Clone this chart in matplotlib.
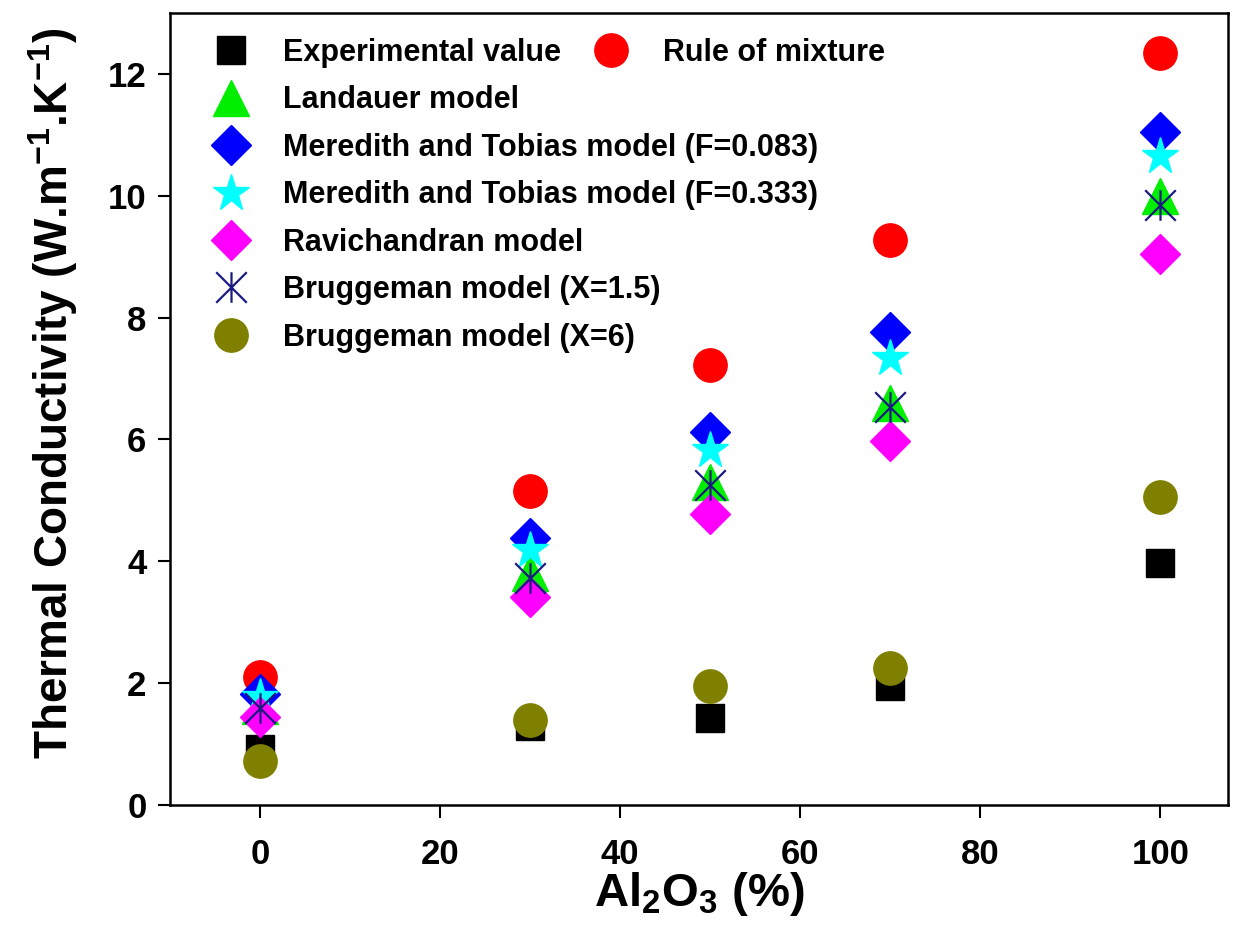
import matplotlib
matplotlib.use("Agg")
import matplotlib.pyplot as plt
from matplotlib import font_manager
from matplotlib.path import Path

# Al2O3 content (%)
al2o3 = [0, 30, 50, 70, 100]

# thermal conductivity, W.m-1.K-1
experimental = [0.92, 1.30, 1.43, 1.96, 3.97]
rule_of_mixture = [2.10, 5.16, 7.22, 9.27, 12.35]
landauer = [1.62, 3.80, 5.30, 6.60, 10.00]
meredith_083 = [1.82, 4.38, 6.13, 7.77, 11.05]
meredith_333 = [1.78, 4.18, 5.82, 7.33, 10.65]
ravichandran = [1.45, 3.41, 4.78, 5.98, 9.05]
bruggeman_15 = [1.60, 3.73, 5.25, 6.53, 9.85]
bruggeman_6 = [0.72, 1.39, 1.96, 2.25, 5.05]

labels = ["Experimental value", "Rule of mixture", "Landauer model",
          "Meredith and Tobias model (F=0.083)", "Meredith and Tobias model (F=0.333)",
          "Ravichandran model", "Bruggeman model (X=1.5)", "Bruggeman model (X=6)"]

installed = {f.name for f in font_manager.fontManager.ttflist}
narrow = "Liberation Sans Narrow" in installed
label_family = ["Liberation Sans Narrow", "Liberation Sans", "DejaVu Sans"] if narrow else ["Liberation Sans", "DejaVu Sans"]

plt.rcParams.update({
    "font.family": ["Liberation Sans", "DejaVu Sans"],
    "font.weight": "bold",
    "mathtext.fontset": "custom",
    "mathtext.rm": "Liberation Sans:bold",
    "mathtext.bf": "Liberation Sans:bold",
    "axes.linewidth": 1.8,
})

# asterisk: vertical line plus two diagonals
asterisk = Path([(0, -0.5), (0, 0.5), (-0.5, -0.5), (0.5, 0.5), (-0.5, 0.5), (0.5, -0.5)],
                [Path.MOVETO, Path.LINETO, Path.MOVETO, Path.LINETO, Path.MOVETO, Path.LINETO])

fig = plt.figure(figsize=(12.43, 9.51), dpi=100)
ax = fig.add_axes([170 / 1243, 1 - 805 / 951, (1228 - 170) / 1243, (805 - 13) / 951])

series = [
    (experimental, dict(marker="s", color="black", ms=20)),
    (rule_of_mixture, dict(marker="o", color="#ff0000", ms=24)),
    (landauer, dict(marker="^", color="#00ee00", ms=26)),
    (meredith_083, dict(marker="D", color="#0000ff", ms=20)),
    (meredith_333, dict(marker="*", color="#00ffff", ms=28)),
    (ravichandran, dict(marker="D", color="#ff00ff", ms=20)),
    (bruggeman_15, dict(marker=asterisk, color="#1a1a80", ms=22, mew=1.6)),
    (bruggeman_6, dict(marker="o", color="#808000", ms=24)),
]

handles = []
for (vals, style), lab in zip(series, labels):
    h, = ax.plot(al2o3, vals, linestyle="none", label=lab, **style)
    handles.append(h)

ax.set_xlim(-10, 107.5)
ax.set_ylim(0, 13)
ax.set_xticks([0, 20, 40, 60, 80, 100])
ax.set_yticks([0, 2, 4, 6, 8, 10, 12])
ax.tick_params(direction="out", length=9, width=1.5, labelsize=25)
ax.tick_params(axis="y", pad=8)
ax.tick_params(axis="x", pad=15)
for t in ax.get_xticklabels() + ax.get_yticklabels():
    t.set_fontweight("bold")

ax.set_ylabel(r"Thermal Conductivity (W.m$^{\mathbf{-1}}$.K$^{\mathbf{-1}}$)",
              family=label_family, fontsize=40 if narrow else 33, fontweight="bold")
ax.yaxis.set_label_coords(-0.085, 0.52)
ax.set_xlabel(r"Al$_{\mathbf{2}}$O$_{\mathbf{3}}$ (%)", fontsize=34, fontweight="bold")
ax.xaxis.set_label_coords(0.5, -0.082)

leg_fs = 26 if narrow else 22
leg_props = dict(family=label_family, weight="bold", size=leg_fs)
leg1 = ax.legend(handles=handles[:2], loc="center left", bbox_to_anchor=(0.04, (805 - 53) / 792),
                 ncol=2, frameon=False, numpoints=1, prop=leg_props, borderpad=0,
                 handlelength=1.2, handletextpad=1.1, columnspacing=1.05, borderaxespad=0)
ax.add_artist(leg1)
ax.legend(handles=handles[2:], loc="center left", bbox_to_anchor=(0.04, (805 - 219) / 792),
          frameon=False, numpoints=1, prop=leg_props, borderpad=0,
          handlelength=1.2, handletextpad=1.1, labelspacing=0.57, borderaxespad=0)

fig.savefig("out.png", dpi=100)
